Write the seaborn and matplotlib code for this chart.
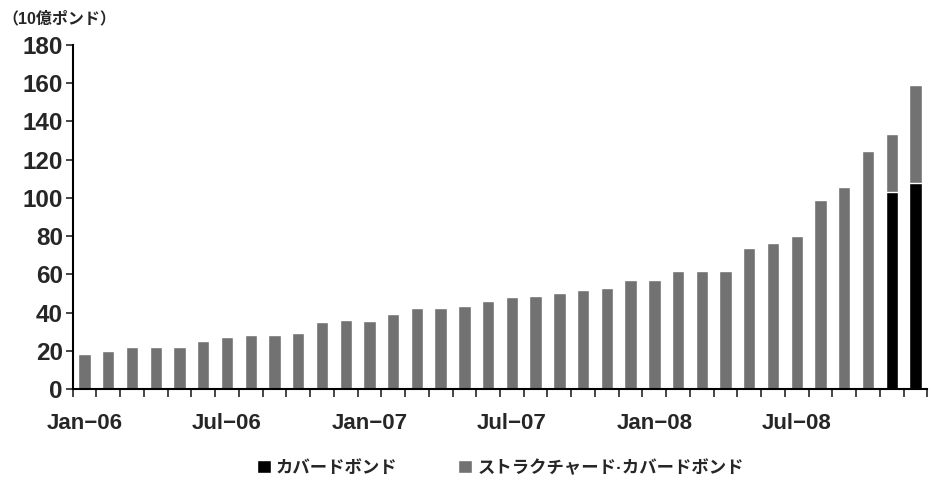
import numpy as np
import pandas as pd
import matplotlib
matplotlib.use("Agg")
import matplotlib.pyplot as plt
import seaborn as sns
from matplotlib.patches import Patch

# =========================
# DATA (10億ポンド)
# =========================
months = list(pd.date_range("2006-01-01", periods=36, freq="MS").strftime("%b-%y"))
tick_labels = ["Jan−06", "Jul−06", "Jan−07", "Jul−07", "Jan−08", "Jul−08"]

covered = [0] * 34 + [103, 108]
structured = [18.5, 20, 22, 22, 22, 25, 27.5, 28.5, 28.5, 29.5,
              35, 36, 35.5, 39.5, 42.5, 42.5, 43.5, 46, 48, 48.5,
              50.5, 52, 53, 57, 57, 61.5, 61.5, 61.5, 74, 76.5,
              80, 99, 105.5, 124.5, 30.5, 51]

df = pd.DataFrame({"month": months, "covered": covered, "structured": structured})
df["total"] = df["covered"] + df["structured"]

# =========================
# STYLE
# =========================
sns.set_style("white")
plt.rcParams["font.family"] = ["Liberation Sans", "Noto Sans CJK JP"]

gray = "#727272"
black = "#000000"

fig = plt.figure(figsize=(9.32, 4.87), dpi=100)
ax = fig.add_axes([0.078, 0.201, 0.917, 0.707])

sns.barplot(data=df, x="month", y="total", order=months, color=gray,
            width=0.52, saturation=1, ax=ax)
sns.barplot(data=df, x="month", y="covered", order=months, color=black,
            width=0.52, saturation=1, ax=ax)

ax.set_xlim(-0.5, 35.45)
ax.set_ylim(0, 180)
ax.set_yticks(np.arange(0, 181, 20))
ax.tick_params(axis="y", direction="out", length=5, width=1.2, pad=2,
               labelsize=17.5, left=True)
for t in ax.get_yticklabels():
    t.set_fontweight("bold")

ax.set_xticks(range(0, 36, 6))
ax.set_xticklabels(tick_labels, fontsize=16, fontweight="bold")
ax.tick_params(axis="x", which="major", length=0, pad=17)
ax.set_xticks(np.arange(-0.5, 36, 1), minor=True)
ax.tick_params(axis="x", which="minor", direction="out", length=6, width=1.2, bottom=True)

ax.set_xlabel("")
ax.set_ylabel("")
sns.despine(ax=ax)
for s in ["left", "bottom"]:
    ax.spines[s].set_linewidth(1.5)
    ax.spines[s].set_color("black")

fig.text(0.003, 0.962, "（10億ポンド）", fontsize=11.5, fontweight="bold",
         ha="left", va="center")

handles = [Patch(facecolor=black, label="カバードボンド"),
           Patch(facecolor=gray, label="ストラクチャード·カバードボンド")]
fig.legend(handles=handles, loc="center", bbox_to_anchor=(0.537, 0.04), ncol=2,
           frameon=False, handlelength=0.8, handleheight=0.8,
           handletextpad=0.3, columnspacing=3.5,
           prop={"size": 12.5, "weight": "bold"})

fig.savefig("out.png", dpi=100)
